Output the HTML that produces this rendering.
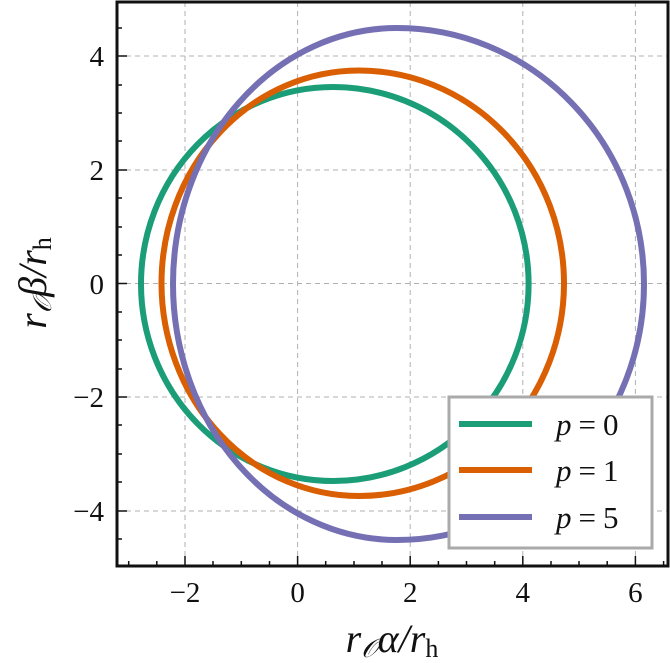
<!DOCTYPE html>
<html><head><meta charset="utf-8"><style>
html,body{margin:0;padding:0;background:#fff;width:670px;height:663px;overflow:hidden}
text{font-family:"Liberation Serif",serif;fill:#111}
</style></head><body>
<svg width="670" height="663" viewBox="0 0 670 663" xmlns="http://www.w3.org/2000/svg">
<g stroke="#b0b0b0" stroke-width="1" stroke-dasharray="5,4">
<line x1="185" y1="2" x2="185" y2="566"/><line x1="297.6" y1="2" x2="297.6" y2="566"/>
<line x1="410.2" y1="2" x2="410.2" y2="566"/><line x1="522.8" y1="2" x2="522.8" y2="566"/>
<line x1="635.4" y1="2" x2="635.4" y2="566"/>
<line x1="117" y1="56" x2="668" y2="56"/><line x1="117" y1="170" x2="668" y2="170"/>
<line x1="117" y1="283.5" x2="668" y2="283.5"/><line x1="117" y1="397" x2="668" y2="397"/>
<line x1="117" y1="511" x2="668" y2="511"/>
</g>
<g fill="none" stroke-width="6">
<path stroke="#1b9e77" d="M141,284 A192 197 0 0 1 333,87 A195.6 197 0 0 1 528.6,284 A195.6 197 0 0 1 333,481 A192 197 0 0 1 141,284Z"/>
<path stroke="#d95f02" d="M161.5,284 A197.5 213 0 0 1 359,70.5 A205 213 0 0 1 564,284 A205 213 0 0 1 359,496 A197.5 213 0 0 1 161.5,284Z"/>
<path stroke="#7570b3" d="M173,284 A224 256 0 0 1 397,28 A247 256 0 0 1 644,284 A247 256 0 0 1 397,540 A224 256 0 0 1 173,284Z"/>
</g>
<g stroke="#111" stroke-width="1.5">
<line x1="117" y1="56" x2="127" y2="56"/><line x1="117" y1="170" x2="127" y2="170"/><line x1="117" y1="283.5" x2="127" y2="283.5"/><line x1="117" y1="397" x2="127" y2="397"/><line x1="117" y1="511" x2="127" y2="511"/>
<line x1="117" y1="28" x2="122" y2="28"/><line x1="117" y1="85" x2="122" y2="85"/><line x1="117" y1="113" x2="122" y2="113"/><line x1="117" y1="141" x2="122" y2="141"/><line x1="117" y1="198" x2="122" y2="198"/><line x1="117" y1="227" x2="122" y2="227"/><line x1="117" y1="255" x2="122" y2="255"/><line x1="117" y1="312" x2="122" y2="312"/><line x1="117" y1="340" x2="122" y2="340"/><line x1="117" y1="369" x2="122" y2="369"/><line x1="117" y1="425" x2="122" y2="425"/><line x1="117" y1="454" x2="122" y2="454"/><line x1="117" y1="482" x2="122" y2="482"/><line x1="117" y1="539" x2="122" y2="539"/>
<line x1="185" y1="566" x2="185" y2="556"/><line x1="297.6" y1="566" x2="297.6" y2="556"/><line x1="410.2" y1="566" x2="410.2" y2="556"/><line x1="522.8" y1="566" x2="522.8" y2="556"/><line x1="635.4" y1="566" x2="635.4" y2="556"/>
<line x1="128.7" y1="566" x2="128.7" y2="561"/><line x1="156.8" y1="566" x2="156.8" y2="561"/><line x1="213" y1="566" x2="213" y2="561"/><line x1="241.3" y1="566" x2="241.3" y2="561"/><line x1="269.5" y1="566" x2="269.5" y2="561"/><line x1="325.7" y1="566" x2="325.7" y2="561"/><line x1="354" y1="566" x2="354" y2="561"/><line x1="382" y1="566" x2="382" y2="561"/><line x1="438.4" y1="566" x2="438.4" y2="561"/><line x1="466.5" y1="566" x2="466.5" y2="561"/><line x1="494.7" y1="566" x2="494.7" y2="561"/><line x1="551" y1="566" x2="551" y2="561"/><line x1="579" y1="566" x2="579" y2="561"/><line x1="607.2" y1="566" x2="607.2" y2="561"/><line x1="663.6" y1="566" x2="663.6" y2="561"/>
</g>
<rect x="117" y="2" width="551" height="564" fill="none" stroke="#111" stroke-width="3"/>
<rect x="449" y="397" width="203" height="151" fill="#fff" stroke="#aaa" stroke-width="3"/>
<line x1="459" y1="424" x2="532" y2="424" stroke="#1b9e77" stroke-width="6"/>
<line x1="459" y1="470" x2="532" y2="470" stroke="#d95f02" stroke-width="6"/>
<line x1="459" y1="517" x2="532" y2="517" stroke="#7570b3" stroke-width="6"/>
<g font-size="31"><text x="556" y="435"><tspan font-style="italic">p</tspan><tspan dx="7">=</tspan><tspan dx="7">0</tspan></text>
<text x="556" y="481"><tspan font-style="italic">p</tspan><tspan dx="7">=</tspan><tspan dx="7">1</tspan></text>
<text x="556" y="528"><tspan font-style="italic">p</tspan><tspan dx="7">=</tspan><tspan dx="7">5</tspan></text></g>
<g font-size="29" text-anchor="end">
<text x="104" y="66">4</text><text x="104" y="180">2</text><text x="104" y="294">0</text><text x="104" y="407">−2</text><text x="104" y="521">−4</text></g>
<g font-size="29" text-anchor="middle">
<text x="185" y="602">−2</text><text x="297.6" y="602">0</text><text x="410.2" y="602">2</text><text x="522.8" y="602">4</text><text x="635.4" y="602">6</text></g>
<text x="392" y="652" font-size="40" text-anchor="middle" font-style="italic">r<tspan font-size="26" dy="5">𝒪</tspan><tspan dy="-5">α/r</tspan><tspan font-size="26" dy="5" font-style="normal">h</tspan></text>
<text transform="translate(46,283) rotate(-90)" font-size="40" text-anchor="middle" font-style="italic">r<tspan font-size="26" dy="5">𝒪</tspan><tspan dy="-5">β/r</tspan><tspan font-size="26" dy="5" font-style="normal">h</tspan></text>
</svg>
</body></html>
